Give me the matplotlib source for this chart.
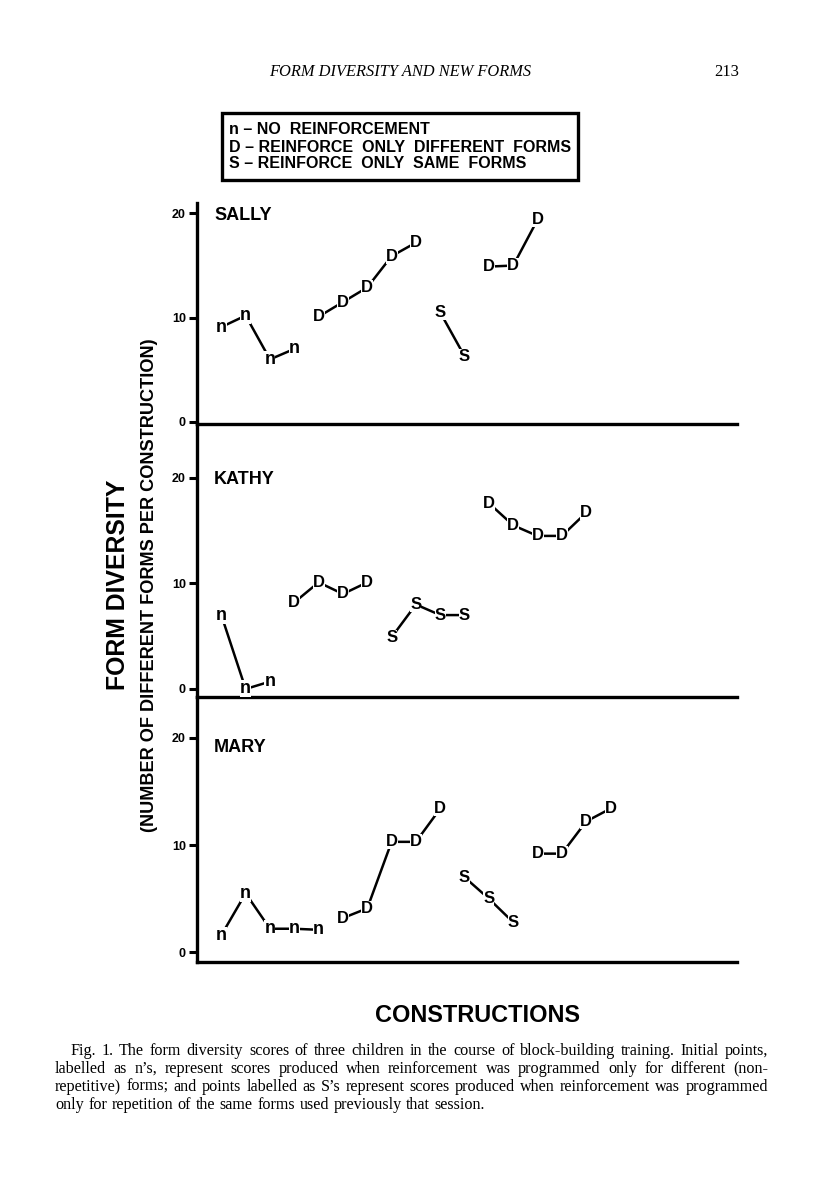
import matplotlib
matplotlib.use("Agg")
import matplotlib.pyplot as plt
from matplotlib import font_manager
from matplotlib.patches import Rectangle

W, H = 816, 1195

# valores (índice de construcción = posición en la lista + 1)
sally_codes = "nnnnDDDDDSSDDD"
sally_values = [9.1, 10.2, 6.0, 7.0, 10.1, 11.5, 12.9, 15.9, 17.2, 10.5, 6.3, 14.9, 15.0, 19.4]

kathy_codes = "nnnDDDDSSSSDDDDD"
kathy_values = [7.0, 0.0, 0.7, 8.2, 10.1, 9.0, 10.1, 4.9, 8.0, 7.0, 7.0, 17.6, 15.5, 14.5, 14.5, 16.7]

mary_codes = "nnnnnDDDDDSSSDDDD"
mary_values = [1.6, 5.5, 2.2, 2.2, 2.1, 3.2, 4.1, 10.3, 10.3, 13.4, 7.0, 5.0, 2.8, 9.2, 9.2, 12.2, 13.4]

children = ["SALLY", "KATHY", "MARY"]
y_ticks = [0, 10, 20]
legend_lines = ["n \u2013 NO  REINFORCEMENT",
                "D \u2013 REINFORCE  ONLY  DIFFERENT  FORMS",
                "S \u2013 REINFORCE  ONLY  SAME  FORMS"]
caption_lines = [
    "Fig. 1. The form diversity scores of three children in the course of block-building training. Initial points,",
    "labelled as n\u2019s, represent scores produced when reinforcement was programmed only for different (non-",
    "repetitive) forms; and points labelled as S\u2019s represent scores produced when reinforcement was programmed",
    "only for repetition of the same forms used previously that session.",
]

SANS = "Liberation Sans"
SERIF = "Liberation Serif"

# familia estrecha si existe
disponibles = {f.name for f in font_manager.fontManager.ttflist}
NARROW = SANS
for cand in ["Liberation Sans Narrow", "DejaVu Sans Condensed"]:
    if cand in disponibles:
        NARROW = cand
        break


def px(x, y):
    return x / W, 1 - y / H


fig = plt.figure(figsize=(W / 100, H / 100), dpi=100)
renderer = fig.canvas.get_renderer()


def ajustar(t, largo, vertical=False):
    """Escala el tamaño de letra para que el texto ocupe 'largo' píxeles."""
    bb = t.get_window_extent(renderer)
    actual = bb.height if vertical else bb.width
    t.set_fontsize(t.get_fontsize() * largo / actual)


# cajas de los paneles en píxeles: (arriba, abajo, ylim, y del nombre)
paneles = [
    (203, 424, (-0.2, 21.0), 216),
    (424, 697, (-0.76, 25.1), 480),
    (697, 962, (-0.9, 23.8), 747),
]
datos = [(sally_codes, sally_values), (kathy_codes, kathy_values), (mary_codes, mary_values)]

x_left, x_right = 197, 737
for (top, bottom, ylim, y_nombre), (codes, values), nombre in zip(paneles, datos, children):
    ax = fig.add_axes([x_left / W, 1 - bottom / H, (x_right - x_left) / W, (bottom - top) / H])
    ax.set_xlim(0, 22.2)
    ax.set_ylim(*ylim)
    ax.spines["top"].set_visible(False)
    ax.spines["right"].set_visible(False)
    for s in ["left", "bottom"]:
        ax.spines[s].set_linewidth(2.4)
    ax.set_xticks([])
    ax.set_yticks(y_ticks)
    ax.set_yticklabels([str(t) for t in y_ticks], fontsize=9, fontweight="bold", family=SANS)
    ax.tick_params(axis="y", length=6, width=2.2, pad=2)
    ax.patch.set_alpha(0)

    # segmentos: se cortan donde cambia la condición
    xs = list(range(1, len(values) + 1))
    inicio = 0
    for i in range(1, len(codes) + 1):
        if i == len(codes) or codes[i] != codes[inicio]:
            ax.plot(xs[inicio:i], values[inicio:i], color="black", lw=1.8, zorder=2)
            inicio = i
    for x, y, c in zip(xs, values, codes):
        ax.text(x, y, c, ha="center", va="center", fontsize=12 if c != "n" else 13,
                family=SANS, fontweight="bold", zorder=3,
                bbox=dict(facecolor="white", edgecolor="none", pad=0.0))
    fig.text(*px(214, y_nombre), nombre, fontsize=13, fontweight="bold", family=SANS,
             va="center", ha="left")

# recuadro de leyenda
fig.patches.append(Rectangle(px(222, 180), 356 / W, 67 / H, transform=fig.transFigure,
                             fill=False, lw=2.4, edgecolor="black"))
leyenda = []
for k, linea in enumerate(legend_lines):
    leyenda.append(fig.text(*px(229, 130 + 17 * k), linea, fontsize=11, fontweight="bold",
                            family=NARROW, va="center", ha="left"))
ajustar(leyenda[1], 339)
for t in leyenda:
    t.set_fontsize(leyenda[1].get_fontsize())

# encabezado de la página
cab = fig.text(*px(400, 72), "FORM DIVERSITY AND NEW FORMS", fontsize=12, style="italic",
               family=SERIF, ha="center", va="center")
ajustar(cab, 261)
fig.text(*px(727, 72), "213", fontsize=12, family=SERIF, ha="center", va="center")

# títulos de ejes
t1 = fig.text(*px(118, 585), "FORM DIVERSITY", fontsize=22, fontweight="heavy", family=NARROW,
              rotation=90, ha="center", va="center")
ajustar(t1, 210, vertical=True)
t2 = fig.text(*px(150, 585), "(NUMBER OF DIFFERENT FORMS PER CONSTRUCTION)", fontsize=12,
              fontweight="bold", family=SANS, rotation=90, ha="center", va="center")
ajustar(t2, 490, vertical=True)
t3 = fig.text(*px(477, 1015), "CONSTRUCTIONS", fontsize=20, fontweight="heavy", family=NARROW,
              ha="center", va="center")
ajustar(t3, 205)

# pie de figura justificado
cap_left = [70, 55, 55, 55]
cap_right = 768
for k, linea in enumerate(caption_lines):
    y = 1051 + 18 * k
    palabras = linea.split(" ")
    textos = [fig.text(0, 0, p, fontsize=11.6, family=SERIF, va="center", ha="left") for p in palabras]
    anchos = [t.get_window_extent(renderer).width for t in textos]
    if k < len(caption_lines) - 1:
        hueco = (cap_right - cap_left[k] - sum(anchos)) / (len(palabras) - 1)
    else:
        hueco = 4.5
    x = cap_left[k]
    for t, a in zip(textos, anchos):
        t.set_position(px(x, y))
        x += a + hueco

fig.savefig("out.png", dpi=100)
